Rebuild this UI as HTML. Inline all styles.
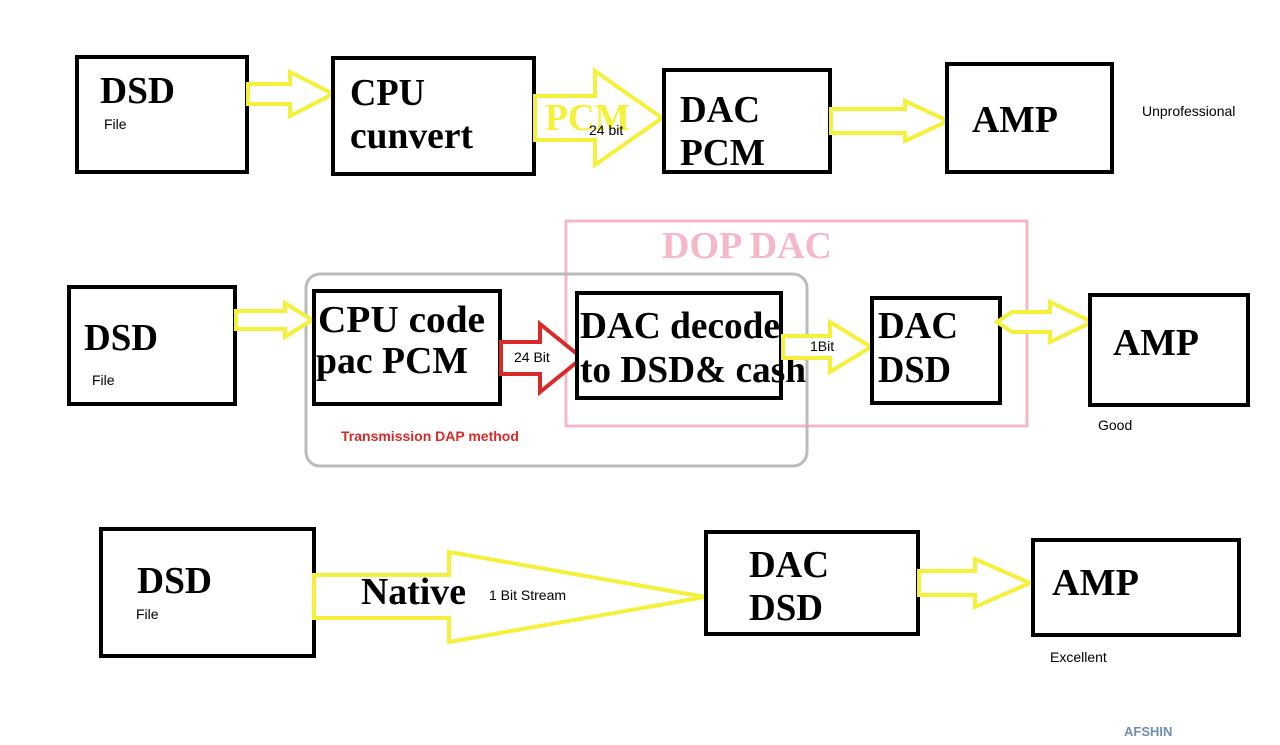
<!DOCTYPE html>
<html><head><meta charset="utf-8"><style>
html,body{margin:0;padding:0;background:#fff;}
svg{display:block;}
.s{font-family:"Liberation Serif",serif;font-weight:bold;font-size:38px;fill:#000;}
.n{font-family:"Liberation Sans",sans-serif;font-size:14px;fill:#000;}
.b{fill:#fff;stroke:#000;stroke-width:4;}
.y{fill:#fff;stroke:#f5f03a;stroke-width:4;stroke-linejoin:miter;}
</style></head><body>
<svg width="1280" height="745" viewBox="0 0 1280 745" xmlns="http://www.w3.org/2000/svg">
<!-- Row 1 -->
<rect class="b" x="77" y="57" width="170" height="115"/>
<text class="s" x="100" y="103" textLength="75" lengthAdjust="spacingAndGlyphs">DSD</text>
<text class="n" x="104" y="129">File</text>
<path class="y" d="M248 84 H290 V72 L333 94 L290 116 V104 H248 Z"/>
<rect class="b" x="333" y="58" width="201" height="116"/>
<text class="s" x="350" y="105" textLength="75" lengthAdjust="spacingAndGlyphs">CPU</text>
<text class="s" x="350" y="148" textLength="123" lengthAdjust="spacingAndGlyphs">cunvert</text>
<path class="y" d="M535 96 H595 V71 L662 118 L595 165 V140 H535 Z"/>
<text class="s" x="545" y="130" textLength="85" lengthAdjust="spacingAndGlyphs" style="fill:#f5f03a">PCM</text>
<text class="n" x="589" y="135">24 bit</text>
<rect class="b" x="664" y="70" width="166" height="102"/>
<text class="s" x="680" y="122" textLength="80" lengthAdjust="spacingAndGlyphs">DAC</text>
<text class="s" x="680" y="165" textLength="85" lengthAdjust="spacingAndGlyphs">PCM</text>
<path class="y" d="M831 109 H905 V101 L948 121 L905 141 V133 H831 Z"/>
<rect class="b" x="947" y="64" width="165" height="108"/>
<text class="s" x="972" y="132" textLength="86" lengthAdjust="spacingAndGlyphs">AMP</text>
<text class="n" x="1142" y="116">Unprofessional</text>
<!-- Row 2 -->
<rect x="566" y="221" width="461" height="205" fill="none" stroke="#f4b8c8" stroke-width="3"/>
<text class="s" x="662" y="258" textLength="170" lengthAdjust="spacingAndGlyphs" style="fill:#f4b8c8">DOP DAC</text>
<rect x="306" y="274" width="501" height="192" rx="14" fill="none" stroke="#bbb" stroke-width="3"/>
<rect class="b" x="69" y="287" width="166" height="117"/>
<text class="s" x="84" y="350" textLength="74" lengthAdjust="spacingAndGlyphs">DSD</text>
<text class="n" x="92" y="385">File</text>
<path class="y" d="M236 311 H285 V303 L312 320 L285 337 V329 H236 Z"/>
<rect class="b" x="314" y="291" width="186" height="113"/>
<text class="s" x="318" y="332" textLength="167" lengthAdjust="spacingAndGlyphs">CPU  code</text>
<text class="s" x="316" y="373" textLength="152" lengthAdjust="spacingAndGlyphs">pac PCM</text>
<path d="M501 342 H540 V324 L582 358 L540 392 V374 H501 Z" fill="#fff" stroke="#d92a2a" stroke-width="4"/>
<text class="n" x="514" y="362">24 Bit</text>
<rect class="b" x="577" y="293" width="204" height="105"/>
<text class="s" x="580" y="338" textLength="200" lengthAdjust="spacingAndGlyphs">DAC decode</text>
<text class="s" x="580" y="382" textLength="226" lengthAdjust="spacingAndGlyphs">to DSD&amp; cash</text>
<path class="y" d="M783 336 H830 V322 L871 347 L830 372 V358 H783 Z"/>
<text class="n" x="810" y="351">1Bit</text>
<rect class="b" x="872" y="298" width="128" height="105"/>
<text class="s" x="878" y="338" textLength="80" lengthAdjust="spacingAndGlyphs">DAC</text>
<text class="s" x="878" y="382" textLength="73" lengthAdjust="spacingAndGlyphs">DSD</text>
<path class="y" d="M997 322 L1012 312 H1050 V302 L1092 322 L1050 342 V332 H1012 Z"/>
<rect class="b" x="1090" y="295" width="158" height="110"/>
<text class="s" x="1113" y="355" textLength="86" lengthAdjust="spacingAndGlyphs">AMP</text>
<text class="n" x="1098" y="430">Good</text>
<text x="341" y="441" style="font-family:'Liberation Sans',sans-serif;font-weight:bold;font-size:14px;fill:#d92a2a">Transmission DAP method</text>
<!-- Row 3 -->
<rect class="b" x="101" y="529" width="213" height="127"/>
<text class="s" x="137" y="593" textLength="75" lengthAdjust="spacingAndGlyphs">DSD</text>
<text class="n" x="136" y="619">File</text>
<path class="y" d="M314 575 H449 V552 L705 597 L449 642 V618 H314 Z"/>
<text class="s" x="361" y="604" textLength="105" lengthAdjust="spacingAndGlyphs">Native</text>
<text class="n" x="489" y="600">1 Bit Stream</text>
<rect class="b" x="706" y="532" width="212" height="102"/>
<text class="s" x="749" y="577" textLength="80" lengthAdjust="spacingAndGlyphs">DAC</text>
<text class="s" x="749" y="620" textLength="74" lengthAdjust="spacingAndGlyphs">DSD</text>
<path class="y" d="M919 571 H975 V559 L1030 583 L975 607 V595 H919 Z"/>
<rect class="b" x="1033" y="540" width="206" height="95"/>
<text class="s" x="1052" y="595" textLength="87" lengthAdjust="spacingAndGlyphs">AMP</text>
<text class="n" x="1050" y="662">Excellent</text>
<text x="1124" y="736" style="font-family:'Liberation Sans',sans-serif;font-weight:bold;font-size:13px;fill:#6f8fb0">AFSHIN</text>
</svg>
</body></html>
